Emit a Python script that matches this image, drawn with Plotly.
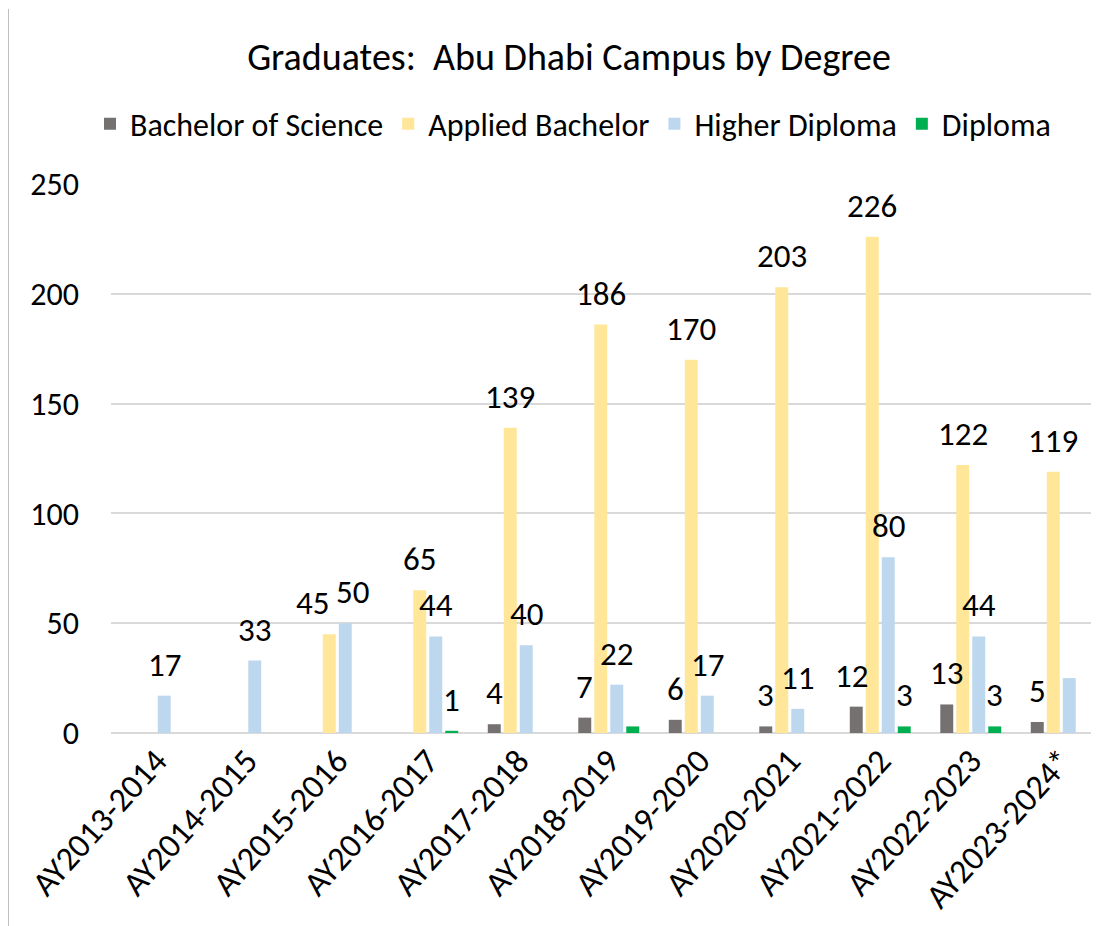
import plotly.graph_objects as go

categories = ["AY2013-2014", "AY2014-2015", "AY2015-2016", "AY2016-2017", "AY2017-2018",
              "AY2018-2019", "AY2019-2020", "AY2020-2021", "AY2021-2022", "AY2022-2023",
              "AY2023-2024*"]

bachelor_science = [None, None, None, None, 4, 7, 6, 3, 12, 13, 5]
applied_bachelor = [None, None, 45, 65, 139, 186, 170, 203, 226, 122, 119]
higher_diploma = [17, 33, 50, 44, 40, 22, 17, 11, 80, 44, 25]
diploma = [None, None, None, 1, None, 3, None, None, 3, 3, None]

# which values carry a visible data label
bachelor_science_show = [False, False, False, False, True, True, True, True, True, True, True]
applied_bachelor_show = [False, False, True, True, True, True, True, True, True, True, True]
higher_diploma_show = [True, True, True, True, True, True, True, True, True, True, False]
diploma_show = [False, False, False, True, False, False, False, False, True, True, False]

FONT = "Carlito, Calibri, 'Liberation Sans Narrow', 'Open Sans', sans-serif"
TXT = "#000000"

series = [
    ("Bachelor of Science", bachelor_science, bachelor_science_show, "#767171"),
    ("Applied Bachelor", applied_bachelor, applied_bachelor_show, "#FFE699"),
    ("Higher Diploma", higher_diploma, higher_diploma_show, "#BDD7EE"),
    ("Diploma", diploma, diploma_show, "#00B050"),
]

# page offset of the figure (body margin)
OFF = 8
W, H = 1099 - OFF, 926 - OFF
PL, PR, PT, PB = 111, 1099, 184, 733  # plot area in page pixels
BARGAP, GROUPGAP = 0.293, 0.19
cat_px = (PR - PL) / 10.917
slot = cat_px * (1 - BARGAP) / 4

# label nudges (style only) for crowded labels: (series index, category index) -> px
nudge = {(1, 2): -17, (2, 2): 7, (0, 8): -5}

fig = go.Figure()
annotations = []
for k, (name, vals, show, color) in enumerate(series):
    fig.add_trace(go.Bar(
        name=name, x=categories, y=vals,
        marker=dict(color=color, line=dict(width=0)),
    ))
    for i, (c, v, s) in enumerate(zip(categories, vals, show)):
        if v is None or not s:
            continue
        annotations.append(dict(
            x=c, y=v, xref="x", yref="y", text=str(v), showarrow=False,
            xanchor="center", yanchor="bottom",
            xshift=(k - 1.5) * slot + nudge.get((k, i), 0), yshift=9,
            font=dict(family=FONT, size=33, color=TXT),
        ))

fig.update_layout(
    width=W, height=H,
    margin=dict(l=PL - OFF, r=0, t=PT - OFF, b=H - (PT - OFF) - (PB - PT)),
    paper_bgcolor="white", plot_bgcolor="white",
    barmode="group", bargap=BARGAP, bargroupgap=GROUPGAP,
    font=dict(family=FONT, color=TXT),
    title=dict(text="Graduates:  Abu Dhabi Campus by Degree",
               x=(569 - OFF) / W, xanchor="center", y=1 - (57 - OFF) / H, yanchor="middle",
               xref="container", yref="container",
               font=dict(family=FONT, size=38, color=TXT)),
    legend=dict(orientation="h", x=(573 - PL) / (PR - PL), xanchor="center",
                y=(PB - 124) / (PB - PT), yanchor="middle",
                font=dict(family=FONT, size=32, color=TXT),
                itemclick=False, tracegroupgap=0),
    showlegend=True,
    annotations=annotations,
    xaxis=dict(range=[-0.5, 10.417], tickangle=-48, showgrid=False,
               showline=False, ticks="",
               tickfont=dict(family=FONT, size=34, color=TXT)),
    yaxis=dict(range=[0, 250], dtick=50, showgrid=True, gridcolor="#D9D9D9", gridwidth=2,
               zeroline=True, zerolinecolor="#D9D9D9", zerolinewidth=2,
               ticks="", ticklabelstandoff=31,
               tickfont=dict(family=FONT, size=32, color=TXT)),
    shapes=[dict(type="line", xref="paper", yref="paper",
                 x0=(8.5 - PL) / (PR - PL), x1=(8.5 - PL) / (PR - PL),
                 y0=(PB - 9) / (PB - PT), y1=(PB - 926) / (PB - PT),
                 line=dict(color="#BFBFBF", width=1))],
)

fig.write_html("out.html")
